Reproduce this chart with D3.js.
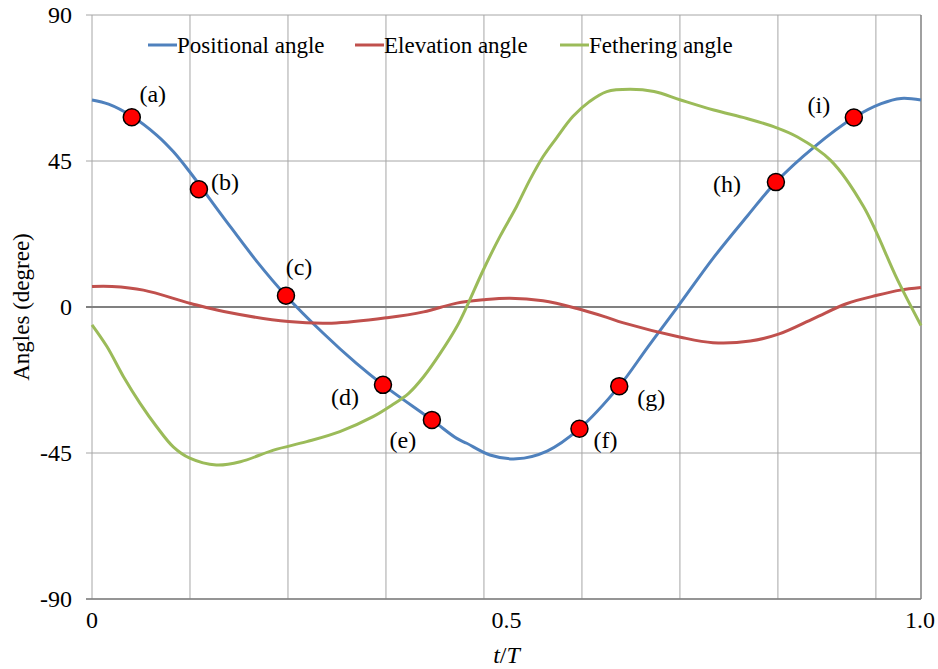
<!DOCTYPE html>
<html>
<head>
<meta charset="utf-8">
<script src="https://cdn.jsdelivr.net/npm/d3@7"></script>
<style>
  body { margin: 0; background: #fff; }
</style>
</head>
<body>
<div id="chart"></div>
<script>
// series (t/T, degrees)
const posT   = [0, 0.02, 0.048, 0.078, 0.098, 0.118, 0.158, 0.199, 0.234, 0.279, 0.319, 0.351, 0.41, 0.44, 0.452, 0.48, 0.512, 0.549, 0.588, 0.636, 0.67, 0.706, 0.75, 0.791, 0.825, 0.871, 0.919, 0.952, 0.976, 1.0];
const posVal = [63.8, 62.5, 58.8, 53.0, 47.9, 41.6, 27.8, 14.0, 3.5, -8.1, -17.4, -24.0, -34.8, -40.5, -42.0, -45.6, -46.8, -44.4, -37.5, -24.4, -12.5, -0.1, 15.3, 28.2, 38.5, 49.3, 58.4, 62.7, 64.3, 63.8];

const eleT   = [0, 0.024, 0.062, 0.119, 0.159, 0.237, 0.289, 0.356, 0.4, 0.44, 0.472, 0.504, 0.544, 0.584, 0.621, 0.64, 0.71, 0.749, 0.794, 0.829, 0.871, 0.91, 0.947, 0.975, 1.0];
const eleVal = [6.3, 6.3, 5.2, 1.1, -1.4, -4.5, -5.0, -3.3, -1.5, 1.2, 2.2, 2.7, 1.9, -0.4, -3.2, -4.8, -9.3, -11.0, -10.5, -8.3, -3.5, 1.0, 3.6, 5.2, 6.0];

const feaT   = [0, 0.018, 0.038, 0.058, 0.078, 0.098, 0.118, 0.15, 0.179, 0.219, 0.259, 0.299, 0.339, 0.362, 0.382, 0.4, 0.42, 0.44, 0.452, 0.472, 0.492, 0.512, 0.528, 0.544, 0.56, 0.58, 0.6, 0.621, 0.649, 0.678, 0.71, 0.75, 0.79, 0.823, 0.851, 0.891, 0.931, 0.972, 1.0];
const feaVal = [-5.5, -12.2, -21.5, -29.7, -36.9, -43.1, -46.6, -48.7, -47.7, -44.1, -41.5, -38.4, -33.8, -30.2, -26.6, -21.5, -14.3, -6.1, 0.1, 11.4, 21.7, 30.9, 39.1, 46.3, 52.0, 58.7, 63.3, 66.4, 67.1, 66.4, 63.8, 60.7, 58.1, 55.5, 52.4, 45.2, 30.8, 8.2, -5.7];

// marked instants on the positional curve
const markLabels = ["(a)", "(b)", "(c)", "(d)", "(e)", "(f)", "(g)", "(h)", "(i)"];
const markT      = [0.048, 0.129, 0.234, 0.351, 0.41, 0.588, 0.636, 0.825, 0.919];
const markVal    = [58.5, 36.3, 3.5, -24.0, -34.8, -37.5, -24.4, 38.5, 58.4];
// label offsets in px from each marker
const markDx = [21, 26, 13, -38, -29, 26, 32, -49, -35];
const markDy = [-24, -8, -29, 12, 20, 11, 11, 2, -13];

const seriesNames = ["Positional angle", "Elevation angle", "Fethering angle"];
const yTicks = [-90, -45, 0, 45, 90];
const xTickLabels = ["0", "0.5", "1.0"];
const xTickAt     = [0, 0.5, 1.0];
const xGridStep = 0.1182;   // category gridlines, not aligned with the labels

const W = 938, H = 669;
const margin = {top: 15, right: 17, bottom: 70, left: 92};
const width = W - margin.left - margin.right,
      height = H - margin.top - margin.bottom;

const x = d3.scaleLinear().domain([0, 1]).range([0, width]);
const y = d3.scaleLinear().domain([-90, 90]).range([height, 0]);

const svg = d3.select("#chart").append("svg")
    .attr("width", W)
    .attr("height", H)
    .attr("font-family", "'Liberation Serif', Tinos, 'Times New Roman', 'DejaVu Serif', serif")
  .append("g")
    .attr("transform", "translate(" + margin.left + "," + margin.top + ")");

// vertical gridlines
const gridX = d3.range(0, 1, xGridStep);
svg.selectAll(".vgrid").data(gridX).enter().append("line")
    .attr("x1", d => x(d)).attr("x2", d => x(d))
    .attr("y1", 0).attr("y2", height)
    .attr("stroke", "#a6a6a6").attr("stroke-width", 1);

// horizontal gridlines + left ticks
svg.selectAll(".hgrid").data(yTicks).enter().append("line")
    .attr("x1", -6).attr("x2", width)
    .attr("y1", d => y(d)).attr("y2", d => y(d))
    .attr("stroke", d => d === 0 ? "#808080" : "#a6a6a6")
    .attr("stroke-width", d => d === 0 ? 2 : 1);

// right border
svg.append("line")
    .attr("x1", width).attr("x2", width).attr("y1", 0).attr("y2", height)
    .attr("stroke", "#808080").attr("stroke-width", 1.5);
// bottom
svg.append("line")
    .attr("x1", -6).attr("x2", width).attr("y1", height).attr("y2", height)
    .attr("stroke", "#808080").attr("stroke-width", 1.5);

// y tick labels
svg.selectAll(".ylab").data(yTicks).enter().append("text")
    .attr("x", -20).attr("y", d => y(d))
    .attr("dy", "0.35em")
    .attr("text-anchor", "end")
    .style("font-size", "24px")
    .text(d => d);

// x tick labels
svg.selectAll(".xlab").data(xTickLabels).enter().append("text")
    .attr("x", (d, i) => x(xTickAt[i]))
    .attr("y", height + 29)
    .attr("text-anchor", (d, i) => i === 2 ? "end" : "middle")
    .attr("dx", (d, i) => i === 2 ? 14 : 0)
    .style("font-size", "24px")
    .text(d => d);

// axis titles
const xt = svg.append("text")
    .attr("x", x(0.5)).attr("y", height + 64)
    .attr("text-anchor", "middle")
    .style("font-size", "24px");
xt.append("tspan").style("font-style", "italic").text("t");
xt.append("tspan").text("/");
xt.append("tspan").style("font-style", "italic").text("T");

svg.append("text")
    .attr("transform", "translate(" + (-63) + "," + y(0) + ") rotate(-90)")
    .attr("text-anchor", "middle")
    .style("font-size", "23px")
    .text("Angles (degree)");

// lines
const colors = ["#4f81bd", "#c0504d", "#9bbb59"];
const series = [
  d3.zip(posT, posVal),
  d3.zip(eleT, eleVal),
  d3.zip(feaT, feaVal)
];
const line = d3.line()
    .x(d => x(d[0]))
    .y(d => y(d[1]))
    .curve(d3.curveCatmullRom.alpha(0.5));

svg.selectAll(".series").data(series).enter().append("path")
    .attr("d", line)
    .attr("fill", "none")
    .attr("stroke", (d, i) => colors[i])
    .attr("stroke-width", 3)
    .attr("stroke-linejoin", "round");

// markers
svg.selectAll(".mark").data(markT).enter().append("circle")
    .attr("cx", d => x(d))
    .attr("cy", (d, i) => y(markVal[i]))
    .attr("r", 8.5)
    .attr("fill", "#ff0000")
    .attr("stroke", "#000")
    .attr("stroke-width", 1.5);

svg.selectAll(".marklab").data(markLabels).enter().append("text")
    .attr("x", (d, i) => x(markT[i]) + markDx[i])
    .attr("y", (d, i) => y(markVal[i]) + markDy[i])
    .attr("dy", "0.35em")
    .attr("text-anchor", "middle")
    .style("font-size", "24px")
    .text(d => d);

// legend
const legendX = [148, 355, 560];
const lg = svg.selectAll(".legend").data(seriesNames).enter().append("g")
    .attr("transform", (d, i) => "translate(" + (legendX[i] - margin.left) + "," + (45 - margin.top) + ")");
lg.append("line")
    .attr("x1", 0).attr("x2", 29).attr("y1", 0).attr("y2", 0)
    .attr("stroke", (d, i) => colors[i]).attr("stroke-width", 3);
lg.append("text")
    .attr("x", 29).attr("dy", "0.35em")
    .style("font-size", "23px")
    .text(d => d);
</script>
</body>
</html>
